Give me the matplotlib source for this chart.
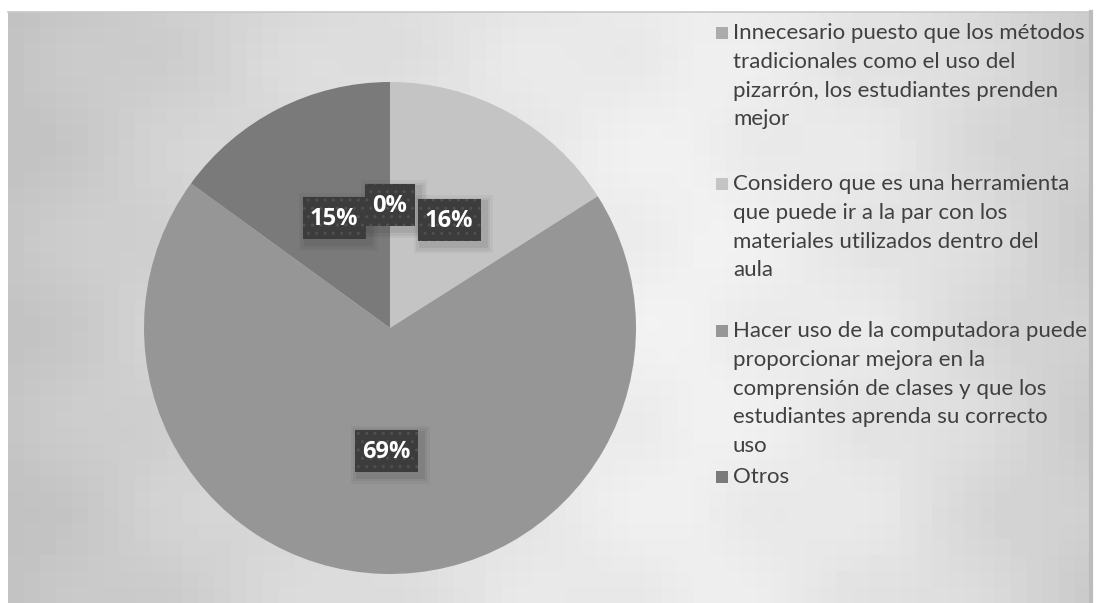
import numpy as np
import matplotlib
matplotlib.use("Agg")
import matplotlib.pyplot as plt
from matplotlib.patches import Rectangle

# survey answers and their shares (percent)
labels = [
    "Innecesario puesto que los métodos\ntradicionales como el uso del\npizarrón, los estudiantes prenden\nmejor",
    "Considero que es una herramienta\nque puede ir a la par con los\nmateriales utilizados dentro del\naula",
    "Hacer uso de la computadora puede\nproporcionar mejora en la\ncomprensión de clases y que los\nestudiantes aprenda su correcto\nuso",
    "Otros",
]
shares = [0, 16, 69, 15]
colors = ["#ababab", "#c4c4c4", "#969696", "#7a7a7a"]

W, H = 1096, 603
fig = plt.figure(figsize=(W / 100, H / 100), dpi=100)
ax = fig.add_axes([0, 0, 1, 1])

# blocky grey backdrop, lighter towards the middle
x0, x1, ytop = 8, 1091, H - 12
block = 16
nx = int(np.ceil((x1 - x0) / block))
ny = int(np.ceil(ytop / block))
bx = x0 + (np.arange(nx) + 0.5) * block
by = (np.arange(ny) + 0.5) * block
gx, gy = np.meshgrid(bx, by)
prof = np.interp(gx, [x0, 300, 700, 900, x1], [0.78, 0.86, 0.95, 0.92, 0.84])
rad = np.hypot((gx - 390) / 420, (gy - 300) / 330)
bg = prof - 0.035 * np.clip(rad - 0.6, 0, 1) + 0.012 * np.sin(gx / 37.0) * np.cos(gy / 29.0)
ax.imshow(bg, cmap="gray", vmin=0, vmax=1, extent=(x0, x1, 0, ytop),
          origin="lower", interpolation="nearest", aspect="auto", zorder=0)
ax.plot([x0, x1], [ytop, ytop], color="#c8c8c8", lw=1.2, zorder=1)
ax.plot([x1, x1], [0, ytop], color="#bcbcbc", lw=3, zorder=1)

# pie
cx, cy, r = 390, H - 328, 246
wedges, _ = ax.pie(shares, colors=colors, startangle=90, counterclock=False,
                   center=(cx, cy), radius=r, wedgeprops=dict(linewidth=0))
for w in wedges:
    w.set_zorder(2)

# percentage labels in dark boxes
for w, v in zip(wedges, shares):
    ang = np.deg2rad((w.theta1 + w.theta2) / 2)
    tx = cx + 0.5 * r * np.cos(ang)
    ty = cy + 0.5 * r * np.sin(ang)
    bw = 50 if v < 10 else 63
    # soft halo behind the box
    for k, a in [(16, 0.05), (11, 0.07), (6, 0.09)]:
        ax.add_patch(Rectangle((tx - bw / 2 - k / 2 + 4, ty - 21 - k / 2 - 4), bw + k, 42 + k,
                               facecolor="#303030", edgecolor="none", alpha=a, zorder=3))
    ax.add_patch(Rectangle((tx - bw / 2, ty - 21), bw, 42, facecolor="#3c3c3c",
                           edgecolor="#505050", hatch="..", linewidth=0, zorder=4))
    ax.text(tx, ty - 1, f"{v}%", ha="center", va="center", color="white",
            fontsize=17, fontweight="bold", family="Open Sans", zorder=5)

# legend drawn by hand
starts = [33, 184, 331, 477]
line_h = 28.8
for lab, col, y0 in zip(labels, colors, starts):
    ax.add_patch(Rectangle((716, H - y0 - 5.5), 12, 12, facecolor=col,
                           edgecolor="none", zorder=4))
    for i, ln in enumerate(lab.split("\n")):
        ax.text(733, H - (y0 + i * line_h), ln, ha="left", va="center",
                fontsize=16, color="#404040", family="Lato", zorder=4)

ax.set_xlim(0, W)
ax.set_ylim(0, H)
ax.set_aspect("auto")
ax.axis("off")
fig.savefig("out.png", dpi=100, facecolor="white")
